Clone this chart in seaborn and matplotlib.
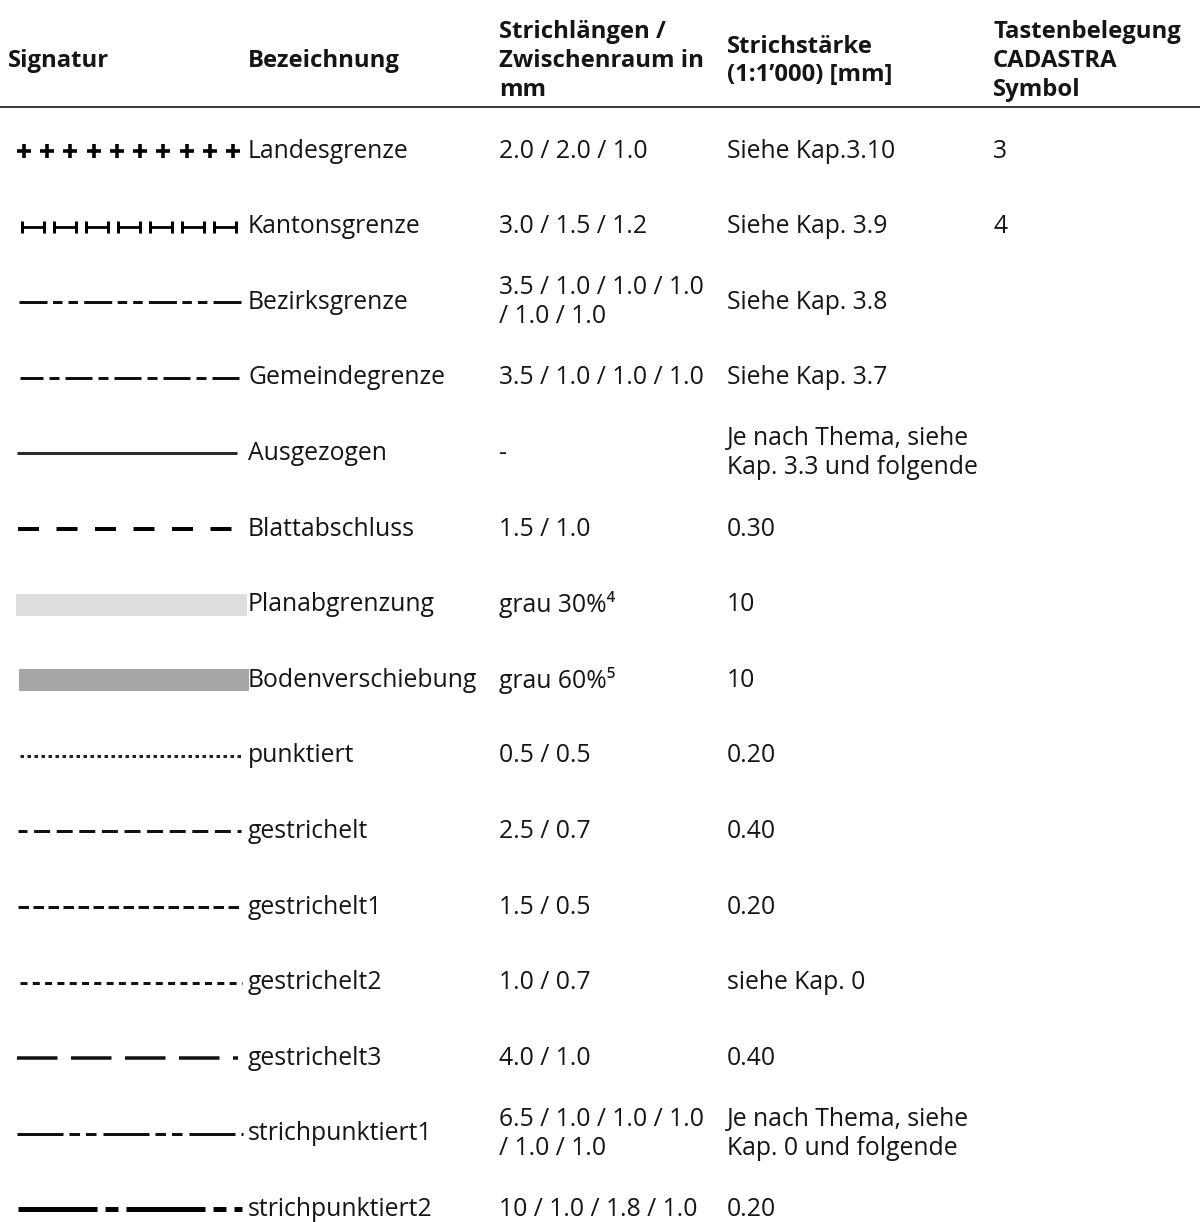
import numpy as np
import matplotlib
matplotlib.use("Agg")
import matplotlib.pyplot as plt
import seaborn as sns

# table content
headers = [
    "Signatur",
    "Bezeichnung",
    "Strichlängen /\nZwischenraum in\nmm",
    "Strichstärke\n(1:1’000) [mm]",
    "Tastenbelegung\nCADASTRA\nSymbol",
]
names = [
    "Landesgrenze", "Kantonsgrenze", "Bezirksgrenze", "Gemeindegrenze",
    "Ausgezogen", "Blattabschluss", "Planabgrenzung", "Bodenverschiebung",
    "punktiert", "gestrichelt", "gestrichelt1", "gestrichelt2",
    "gestrichelt3", "strichpunktiert1", "strichpunktiert2",
]
dash_text = [
    "2.0 / 2.0 / 1.0", "3.0 / 1.5 / 1.2", "3.5 / 1.0 / 1.0 / 1.0\n/ 1.0 / 1.0",
    "3.5 / 1.0 / 1.0 / 1.0", "-", "1.5 / 1.0", "grau 30%\u2074", "grau 60%\u2075",
    "0.5 / 0.5", "2.5 / 0.7", "1.5 / 0.5", "1.0 / 0.7", "4.0 / 1.0",
    "6.5 / 1.0 / 1.0 / 1.0\n/ 1.0 / 1.0", "10 / 1.0 / 1.8 / 1.0",
]
width_text = [
    "Siehe Kap.3.10", "Siehe Kap. 3.9", "Siehe Kap. 3.8", "Siehe Kap. 3.7",
    "Je nach Thema, siehe\nKap. 3.3 und folgende", "0.30", "10", "10",
    "0.20", "0.40", "0.20", "siehe Kap. 0", "0.40",
    "Je nach Thema, siehe\nKap. 0 und folgende", "0.20",
]
key_text = ["3", "4", "", "", "", "", "", "", "", "", "", "", "", "", ""]

# how each signature is drawn: (x start, x end, dash pattern in px, offset, lw px, colour)
sig_styles = [
    None,  # plus signs
    None,  # H bars
    (19, 241, [28, 5.5, 9.5, 6, 9.5, 6.2], 0, 3, "#111111"),
    (20, 241, [27, 6, 10, 6], 4, 3, "#111111"),
    (17, 237, None, 0, 3, "#2a2a2a"),
    (18, 234, [21, 17.5], 0, 4, "#000000"),
    (16, 247, None, 0, 22, "#dedede"),
    (19, 249, None, 0, 22, "#a6a6a6"),
    (20, 243, [3.5, 3.5], 0, 3, "#222222"),
    (18, 241, [16, 6.6], 7, 3, "#111111"),
    (18, 242, [10.5, 4.5], 0, 3, "#111111"),
    (20, 242, [7, 5.3], 0, 3, "#111111"),
    (17, 238, [40.5, 13.5], 0, 3.5, "#111111"),
    (17, 243, [46, 6, 10.5, 6, 10.5, 7], 0, 3, "#111111"),
    (18, 242, [79, 8, 13, 8], 0, 5, "#000000"),
]

W, H = 1203, 1222
PX = 72 / 100  # px -> pt at 100 dpi
col_x = [8, 248, 499, 727, 993]
header_y = 61
rule_y = 107
row_y0 = 151
row_step = 75.6

sns.set_style("white")
plt.rcParams["font.family"] = ["Open Sans", "DejaVu Sans"]
plt.rcParams["lines.scale_dashes"] = False

fig = plt.figure(figsize=(W / 100, H / 100), dpi=100)
ax = fig.add_axes([0, 0, 1, 1])
ax.set_xlim(0, W)
ax.set_ylim(H, 0)
ax.axis("off")

fs = 17.8
fs_head = 17.2
txt_color = "#151515"

for x, h in zip(col_x, headers):
    ax.text(x, header_y, h, fontsize=fs_head, fontweight="bold", va="center",
            ha="left", linespacing=1.25, color=txt_color)
ax.plot([0, 1200], [rule_y, rule_y], color="black", lw=1.5 * PX,
        solid_capstyle="butt")

for i, name in enumerate(names):
    y = row_y0 + i * row_step
    for x, t in zip(col_x[1:], [name, dash_text[i], width_text[i], key_text[i]]):
        if t:
            ax.text(x, y, t, fontsize=fs, va="center", ha="left",
                    linespacing=1.2, color=txt_color)

    st = sig_styles[i]
    if i == 0:
        xs = np.linspace(24, 233, 10)
        ax.plot(xs, np.full_like(xs, y), ls="none", marker="+",
                ms=14 * PX, mew=3.6 * PX, color="black")
        continue
    if i == 1:
        for c in np.linspace(32.5, 224.5, 7):
            ax.plot([c - 11, c + 11], [y, y], color="black", lw=2.8 * PX,
                    marker="|", ms=12 * PX, mew=3 * PX, solid_capstyle="butt")
        continue
    x0, x1, dashes, off, lw, col = st
    line, = ax.plot([x0, x1], [y, y], color=col, lw=lw * PX,
                    solid_capstyle="butt", dash_capstyle="butt")
    if dashes:
        line.set_linestyle((off * PX, [d * PX for d in dashes]))

fig.savefig("out.png", dpi=100, facecolor="white")
